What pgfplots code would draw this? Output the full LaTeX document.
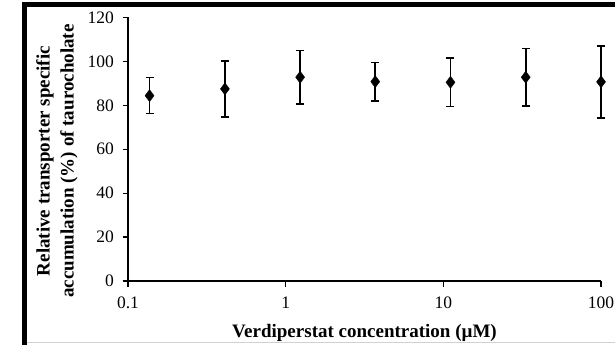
\documentclass[border=0pt]{standalone}
\usepackage{fontspec}
\setmainfont{Liberation Serif}
\usepackage{pgfplots}
\pgfplotsset{compat=1.18}
\begin{document}
\begin{tikzpicture}[x=1bp,y=1bp]
\useasboundingbox (0,0) rectangle (615,344);
\fill[white] (0,0) rectangle (615,344);
\draw[line width=5bp,black] (24.2,-3) -- (24.2,339.6) -- (620,339.6);
\draw[line width=1bp,black!18] (27,1.7) -- (615,1.7);
\begin{axis}[
  at={(128bp,63bp)}, anchor=south west,
  scale only axis, width=473bp, height=263.5bp,
  xmode=log, log basis x=10,
  xmin=0.1, xmax=100, ymin=0, ymax=120,
  axis lines=left, axis line style={line width=1.3bp, -},
  xtick={0.1,1,10,100}, xticklabels={0.1,1,10,100},
  ytick={0,20,...,120},
  tick align=outside, tick style={line width=1.3bp, black},
  major tick length=5.5bp, minor tick length=3.8bp,
  minor x tick num=8,
  /pgf/number format/assume math mode=true,
  tick label style={font=\fontsize{17.5bp}{19bp}\selectfont},
  yticklabel style={xshift=-5bp},
  xticklabel style={yshift=-7bp},
  label style={font=\fontsize{19bp}{24bp}\selectfont\bfseries},
  xlabel={Verdiperstat concentration (µM)},
  xlabel style={at={(rel axis cs:0.5,0)}, anchor=center, yshift=-52bp},
  ylabel={Relative transporter specific\\accumulation (\%) of taurocholate},
  ylabel style={align=center, at={(rel axis cs:-0.150,0.455)}, anchor=center},
  clip=false,
]
\addplot[only marks, mark=diamond*, mark size=6bp, black,
  error bars/.cd, y dir=both, y explicit,
  error bar style={line width=1.6bp, black},
  error mark options={rotate=90, mark size=4bp, line width=1.6bp, black}]
  table[x=x, y=y, y error=e] {
x y e
0.137 84.4 8.2
0.412 87.5 12.7
1.235 92.8 12.2
3.70 90.8 8.7
11.1 90.5 11.1
33.3 92.8 13.0
100 90.7 16.4
};
\end{axis}
\end{tikzpicture}
\end{document}
